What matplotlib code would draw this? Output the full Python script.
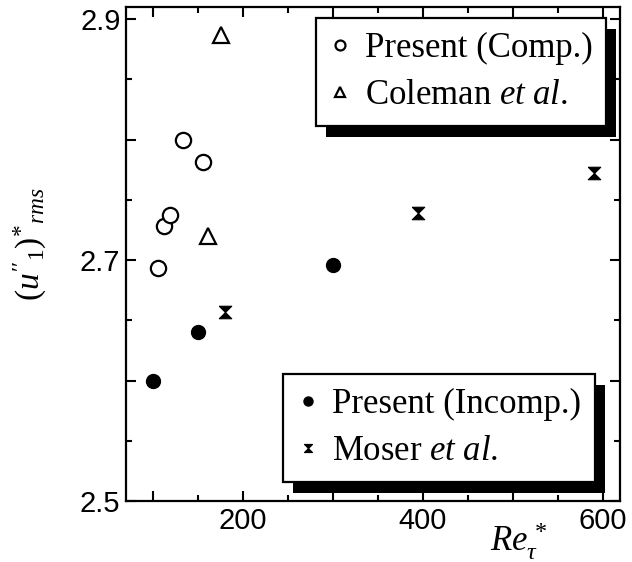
import numpy as np
import matplotlib
matplotlib.use('Agg')
import matplotlib.pyplot as plt
from matplotlib.patches import Rectangle
from matplotlib.ticker import MultipleLocator, FixedFormatter, FixedLocator

plt.rcParams['font.family'] = ['Liberation Sans', 'DejaVu Sans']
plt.rcParams['mathtext.fontset'] = 'custom'
plt.rcParams['mathtext.rm'] = 'Liberation Serif'
plt.rcParams['mathtext.it'] = 'Liberation Serif:italic'

# data
comp_re = [106, 112, 119, 133, 156]
comp_u = [2.693, 2.728, 2.737, 2.800, 2.781]
coleman_re = [161, 176]
coleman_u = [2.720, 2.887]
incomp_re = [100, 150, 300]
incomp_u = [2.600, 2.640, 2.696]
moser_re = [180, 395, 590]
moser_u = [2.657, 2.739, 2.772]

hourglass = [(-1, 1), (1, 1), (-1, -1), (1, -1), (-1, 1)]

fig = plt.figure(figsize=(6.32, 5.62), dpi=100)
ax = fig.add_axes([0.1994, 0.1085, 0.7816, 0.879])

l1, = ax.plot(comp_re, comp_u, 'o', ls='none', mfc='white', mec='black', mew=1.6, ms=11)
l2, = ax.plot(coleman_re, coleman_u, '^', ls='none', mfc='white', mec='black', mew=1.6, ms=11)
l3, = ax.plot(incomp_re, incomp_u, 'o', ls='none', mfc='black', mec='black', ms=10)
l4, = ax.plot(moser_re, moser_u, marker=hourglass, ls='none', mfc='black', mec='black', mew=0.8, ms=9)

ax.set_xlim(70, 619)
ax.set_ylim(2.5, 2.91)

ax.xaxis.set_major_locator(FixedLocator([100, 200, 300, 400, 500, 600]))
ax.xaxis.set_major_formatter(FixedFormatter(['', '200', '', '400', '', '600']))
ax.xaxis.set_minor_locator(MultipleLocator(50))
ax.yaxis.set_major_locator(FixedLocator([2.5, 2.6, 2.7, 2.8, 2.9]))
ax.yaxis.set_major_formatter(FixedFormatter(['2.5', '', '2.7', '', '2.9']))
ax.yaxis.set_minor_locator(MultipleLocator(0.05))

ax.tick_params(which='both', direction='in', top=True, right=True, width=1.5, labelsize=21)
ax.tick_params(which='major', length=7, pad=4)
ax.tick_params(which='minor', length=4)
for s in ax.spines.values():
    s.set_linewidth(1.6)

ax.set_xlabel(r'$Re_{\tau}^{\,*}$', fontsize=25)
ax.xaxis.set_label_coords(0.795, -0.04)
ax.set_ylabel(r"$(u''_{\mathit{1}})^{*}{}_{rms}$", fontsize=24)
ax.yaxis.set_label_coords(-0.155, 0.52)

legkw = dict(frameon=True, fancybox=False, edgecolor='black', framealpha=1,
             prop={'family': 'Liberation Serif', 'size': 25}, markerscale=0.65,
             handlelength=0.6, handletextpad=0.4, borderpad=0.4,
             labelspacing=0.4, borderaxespad=0)
leg1 = ax.legend([l1, l2], ['Present (Comp.)', r'Coleman $\mathit{et\ al.}$'],
                 loc='upper right', bbox_to_anchor=(0.972, 0.978), **legkw)
leg1.get_frame().set_linewidth(1.6)
ax.add_artist(leg1)
leg2 = ax.legend([l3, l4], ['Present (Incomp.)', r'Moser $\mathit{et\ al.}$'],
                 loc='lower right', bbox_to_anchor=(0.949, 0.0385), **legkw)
leg2.get_frame().set_linewidth(1.6)

# black drop shadows behind legends
fig.canvas.draw()
inv = ax.transAxes.inverted()
for lg in (leg1, leg2):
    bb = lg.get_window_extent()
    (x0, y0), (x1, y1) = inv.transform([[bb.x0 + 10, bb.y0 - 11], [bb.x1 + 10, bb.y1 - 11]])
    ax.add_patch(Rectangle((x0, y0), x1 - x0, y1 - y0, transform=ax.transAxes,
                           facecolor='black', edgecolor='none', zorder=4.5, clip_on=False))

fig.savefig('out.png', dpi=100)
